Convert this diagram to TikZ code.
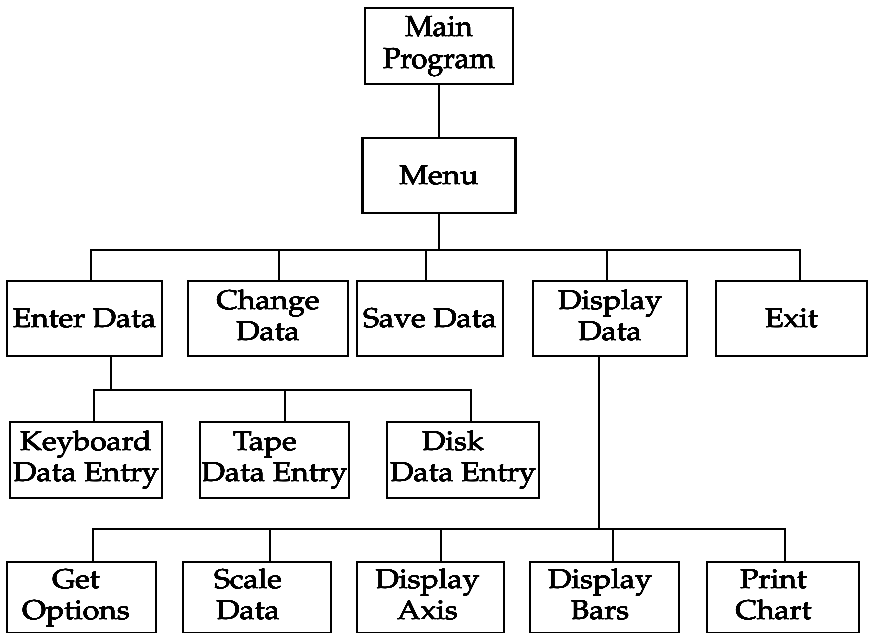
\documentclass[tikz,border=0pt]{standalone}
\usepackage[T1]{fontenc}
\usepackage{mathpazo}
\usepackage{graphicx}
\usepackage[copies]{contour}
\contourlength{0.12pt}
\contournumber{12}
% one line of label text, set a little heavier
\newcommand\heavy[1]{\contour{black}{#1}}
% box labels: centred lines in slightly widened type
\newcommand\boxtext[1]{\scalebox{1.12}[1]{\begin{tabular}{@{}c@{}}#1\end{tabular}}}
\newcommand\oneline[1]{\scalebox{1.12}[1]{\heavy{#1}}}
\begin{document}
\begin{tikzpicture}[x=1pt,y=-1pt,
  box/.style={draw, line width=2.3pt, inner sep=0pt, font=\fontsize{27}{31}\selectfont},
  lvlA/.style={box, minimum height=75pt},
  lvlB/.style={box, minimum height=76pt},
  lvlC/.style={box, minimum height=71pt},
  link/.style={line width=2pt}]
\fill[white] (0,0) rectangle (869,632);
\useasboundingbox (0,0) rectangle (869,632);

% top of the chart
\node[box, minimum width=148pt, minimum height=76pt, font=\fontsize{29}{32}\selectfont] (main) at (439,46)
  {\begin{tabular}{@{}c@{}}\heavy{Main}\\\heavy{Program}\end{tabular}};
\node[box, minimum width=153pt, minimum height=75pt] (menu) at (439,175.5) {\oneline{Menu}};

% menu choices
\node[lvlA, minimum width=155pt] (enter)   at (84.5,318.5) {\oneline{Enter Data}};
\node[lvlA, minimum width=160pt] (change)  at (268,318.5)  {\boxtext{\heavy{Change}\\\heavy{Data}}};
\node[lvlA, minimum width=146pt] (save)    at (430,318.5)  {\oneline{Save Data}};
\node[lvlA, minimum width=154pt] (display) at (610,318.5)  {\boxtext{\heavy{Display}\\\heavy{Data}}};
\node[lvlA, minimum width=151pt] (exit)    at (791.5,318.5){\oneline{Exit}};

% data entry modules
\node[lvlB, minimum width=152pt] (keyb) at (86,460)    {\boxtext{\heavy{Keyboard}\\\heavy{Data Entry}}};
\node[lvlB, minimum width=149pt] (tape) at (274.5,460) {\boxtext{\heavy{Tape}\hspace*{17pt}\\\heavy{Data Entry}}};
\node[lvlB, minimum width=152pt] (disk) at (463,460)   {\boxtext{\heavy{Disk}\hspace*{18pt}\\\heavy{Data Entry}}};

% display modules
\node[lvlC, minimum width=149pt] (opts)  at (81.5,597.5) {\hspace*{-11pt}\boxtext{\heavy{Get}\\\heavy{Options}}};
\node[lvlC, minimum width=148pt] (scale) at (257,597.5)  {\hspace*{-18pt}\boxtext{\heavy{Scale}\\\heavy{Data}}};
\node[lvlC, minimum width=147pt] (axis)  at (430.5,597.5){\hspace*{-6pt}\boxtext{\heavy{Display}\\\heavy{Axis}}};
\node[lvlC, minimum width=149pt] (bars)  at (604.5,597.5){\hspace*{-9pt}\boxtext{\heavy{Display}\\\heavy{Bars}}};
\node[lvlC, minimum width=152pt] (print) at (783,597.5)  {\hspace*{-19pt}\boxtext{\heavy{Print}\\\heavy{Chart}}};

% junction points of the connecting lines
\coordinate (b1) at (439,250);
\coordinate (j11) at (91,250);  \coordinate (j12) at (279,250);
\coordinate (j13) at (426,250); \coordinate (j14) at (607,250);
\coordinate (j15) at (800,250);
\coordinate (b2) at (111,390);
\coordinate (j21) at (94,390);  \coordinate (j22) at (285,390);
\coordinate (j23) at (471,390);
\coordinate (b3) at (599,529);
\coordinate (j31) at (93,529);  \coordinate (j32) at (270,529);
\coordinate (j33) at (441,529); \coordinate (j34) at (613,529);
\coordinate (j35) at (785,529);

% connectors
\draw[link] (main) -- (menu);
\draw[link] (menu.south) -- (b1);
\draw[link] (j11 |- enter.north) -- (j11) -- (j15) -- (j15 |- exit.north);
\draw[link] (j12) -- (j12 |- change.north);
\draw[link] (j13) -- (j13 |- save.north);
\draw[link] (j14) -- (j14 |- display.north);

\draw[link] (b2 |- enter.south) -- (b2);
\draw[link] (j21 |- keyb.north) -- (j21) -- (j23) -- (j23 |- disk.north);
\draw[link] (j22) -- (j22 |- tape.north);

\draw[link] (b3 |- display.south) -- (b3);
\draw[link] (j31 |- opts.north) -- (j31) -- (j35) -- (j35 |- print.north);
\draw[link] (j32) -- (j32 |- scale.north);
\draw[link] (j33) -- (j33 |- axis.north);
\draw[link] (j34) -- (j34 |- bars.north);
\end{tikzpicture}
\end{document}
